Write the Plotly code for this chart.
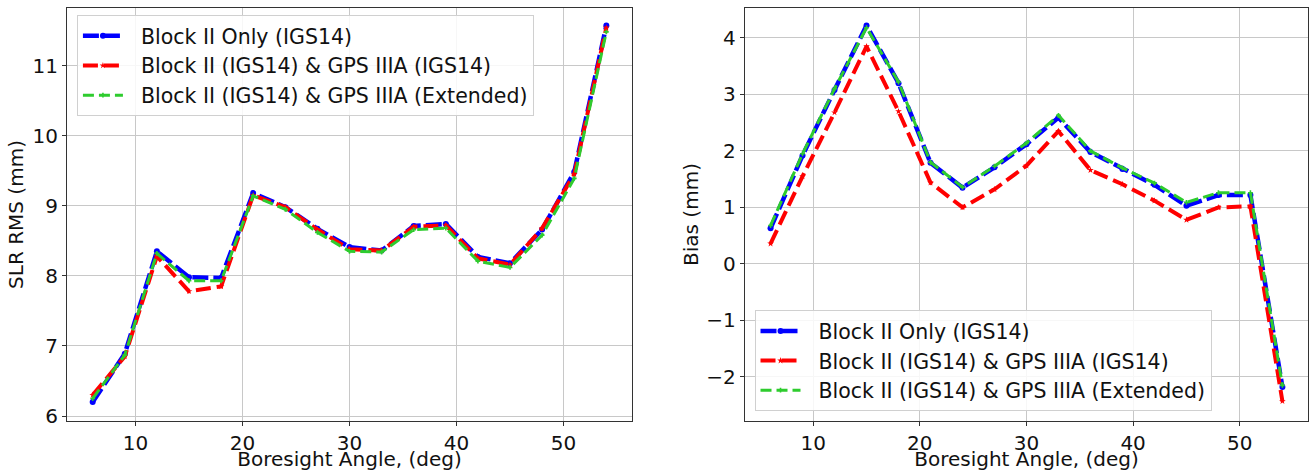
import plotly.graph_objects as go

angles = [6, 9, 12, 15, 18, 21, 24, 27, 30, 33, 36, 39, 42, 45, 48, 51, 54]

rms_block2 = [6.20, 6.89, 8.35, 7.98, 7.97, 9.18, 8.98, 8.67, 8.41, 8.36, 8.71, 8.74, 8.27, 8.18, 8.66, 9.48, 11.57]
rms_mixed_igs = [6.30, 6.85, 8.28, 7.78, 7.85, 9.15, 8.98, 8.66, 8.38, 8.36, 8.70, 8.72, 8.25, 8.16, 8.68, 9.45, 11.54]
rms_mixed_ext = [6.25, 6.87, 8.32, 7.93, 7.93, 9.14, 8.95, 8.62, 8.35, 8.34, 8.66, 8.68, 8.21, 8.12, 8.58, 9.39, 11.48]

bias_block2 = [0.63, 1.92, 3.08, 4.22, 3.20, 1.79, 1.35, 1.71, 2.12, 2.59, 1.98, 1.68, 1.40, 1.03, 1.22, 1.22, -2.18]
bias_mixed_igs = [0.36, 1.55, 2.68, 3.85, 2.70, 1.44, 1.00, 1.32, 1.74, 2.35, 1.66, 1.41, 1.12, 0.78, 1.00, 1.02, -2.43]
bias_mixed_ext = [0.68, 1.95, 3.10, 4.18, 3.22, 1.80, 1.36, 1.73, 2.14, 2.63, 2.00, 1.70, 1.43, 1.09, 1.26, 1.26, -2.15]

names = ["Block II Only (IGS14)",
         "Block II (IGS14) & GPS IIIA (IGS14)",
         "Block II (IGS14) & GPS IIIA (Extended)"]
colors = ["#0000ff", "#ff0000", "#2ecc2e"]
dashes = ["16px,5px", "15px,6px", "11px,5px"]
widths = [4.5, 4.0, 3.0]
symbols = ["circle", "star", "cross"]
msizes = [6, 5, 4]

FONT = "DejaVu Sans, Liberation Sans, sans-serif"
FS = 20
PAD = "\u00a0\u00a0"
fig = go.Figure()

series_left = [rms_block2, rms_mixed_igs, rms_mixed_ext]
series_right = [bias_block2, bias_mixed_igs, bias_mixed_ext]

for i in range(3):
    fig.add_trace(go.Scatter(
        x=angles, y=series_left[i], name=PAD + names[i], mode="lines+markers",
        line=dict(color=colors[i], width=widths[i], dash=dashes[i]),
        marker=dict(color=colors[i], size=msizes[i], symbol=symbols[i]),
        xaxis="x", yaxis="y", legend="legend", legendgroup="L%d" % i))
for i in range(3):
    fig.add_trace(go.Scatter(
        x=angles, y=series_right[i], name=PAD + names[i], mode="lines+markers",
        line=dict(color=colors[i], width=widths[i], dash=dashes[i]),
        marker=dict(color=colors[i], size=msizes[i], symbol=symbols[i]),
        xaxis="x2", yaxis="y2", legend="legend2", legendgroup="R%d" % i))

axis_common = dict(
    showline=True, mirror=True, linecolor="#333333", linewidth=1.2,
    showgrid=True, gridcolor="#c8c8c8", gridwidth=1,
    ticks="outside", ticklen=4, tickcolor="#333333",
    tickfont=dict(family=FONT, size=FS, color="#111111"),
    zeroline=False, automargin=False,
)

legend_common = dict(
    bgcolor="rgba(255,255,255,0.85)", bordercolor="#d0d0d0", borderwidth=1,
    font=dict(family=FONT, size=20.5), traceorder="grouped", tracegroupgap=0,
    itemwidth=40,
)

fig.update_layout(
    width=1310, height=471,
    margin=dict(l=67, r=2, t=8, b=50),
    paper_bgcolor="white", plot_bgcolor="white",
    font=dict(family=FONT, size=FS, color="#111111"),
    xaxis=dict(domain=[0, 0.4553], range=[3.6, 56.4], dtick=10, tick0=0,
               title=dict(text="Boresight Angle, (deg)", standoff=2,
                          font=dict(family=FONT, size=FS)), anchor="y", **axis_common),
    yaxis=dict(domain=[0, 1], range=[5.93, 11.82], dtick=1, tick0=0,
               title=dict(text="SLR RMS (mm)", standoff=3,
                          font=dict(family=FONT, size=FS)), anchor="x", **axis_common),
    xaxis2=dict(domain=[0.5463, 1], range=[3.6, 56.4], dtick=10, tick0=0,
                title=dict(text="Boresight Angle, (deg)", standoff=2,
                           font=dict(family=FONT, size=FS)), anchor="y2", **axis_common),
    yaxis2=dict(domain=[0, 1], range=[-2.78, 4.53], dtick=1, tick0=0,
                title=dict(text="Bias (mm)", standoff=2,
                           font=dict(family=FONT, size=FS)), anchor="x2", **axis_common),
    legend=dict(x=0.008, y=0.983, xanchor="left", yanchor="top", **legend_common),
    legend2=dict(x=0.554, y=0.024, xanchor="left", yanchor="bottom", **legend_common),
)

fig.write_html("out.html", config={"displayModeBar": False},
               post_script="document.body.style.margin='0';document.body.style.padding='0';")
